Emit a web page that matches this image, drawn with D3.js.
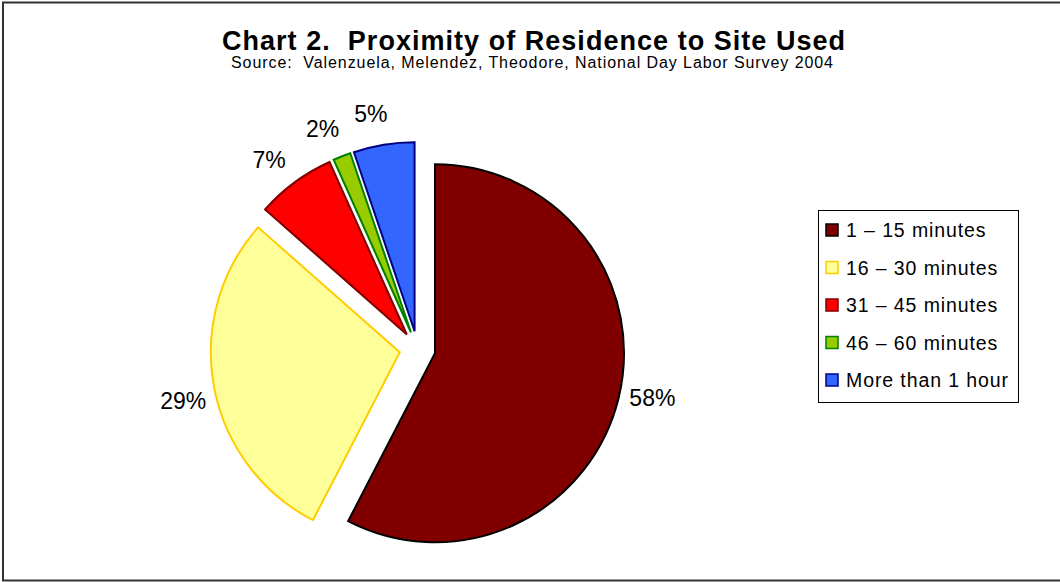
<!DOCTYPE html>
<html>
<head>
<meta charset="utf-8">
<script src="https://cdn.jsdelivr.net/npm/d3@7"></script>
<style>
  html, body { margin: 0; padding: 0; background: #fff; }
  svg { display: block; font-family: Arial, "Liberation Sans", sans-serif; }
</style>
</head>
<body>
<svg id="chart" width="1060" height="582"></svg>
<script>
// ---- data ----
const categories = ["1 \u2013 15 minutes", "16 \u2013 30 minutes", "31 \u2013 45 minutes", "46 \u2013 60 minutes", "More than 1 hour"];
const values = [57.6, 28.9, 6.8, 1.5, 5.2];
const fillColors = ["#800000", "#FFFF99", "#FF0000", "#99CC00", "#3366FF"];
const strokeColors = ["#000000", "#FFCC00", "#800000", "#008000", "#000080"];
const titleText = "Chart 2.  Proximity of Residence to Site Used";
const subtitleText = "Source:  Valenzuela, Melendez, Theodore, National Day Labor Survey 2004";

// ---- layout ----
const svg = d3.select("#chart");
const W = 1060, H = 582;
const cx = 417.5, cy = 349, R = 189, explode = 18, labelR = 222;
const labelAngleShift = -2.0 * Math.PI / 180;

// outer border
svg.append("rect")
  .attr("x", 3).attr("y", 2.5).attr("width", W + 10).attr("height", 578)
  .attr("fill", "none").attr("stroke", "#333").attr("stroke-width", 2);

// title
svg.append("text")
  .attr("x", 533.5).attr("y", 50)
  .attr("text-anchor", "middle")
  .attr("font-size", 27).attr("font-weight", "bold")
  .attr("textLength", 623).attr("lengthAdjust", "spacing")
  .style("white-space", "pre")
  .text(titleText);

svg.append("text")
  .attr("x", 532).attr("y", 68)
  .attr("text-anchor", "middle")
  .attr("font-size", 16)
  .attr("textLength", 602).attr("lengthAdjust", "spacing")
  .style("white-space", "pre")
  .text(subtitleText);

// pie
const pie = d3.pie().sort(null).value(d => d)(values);
const arc = d3.arc().innerRadius(0).outerRadius(R);
const g = svg.append("g").attr("transform", `translate(${cx},${cy})`);

function offsetAt(a, dist) { return [Math.sin(a) * dist, -Math.cos(a) * dist]; }
function mid(d) { return (d.startAngle + d.endAngle) / 2; }

g.selectAll("path.slice")
  .data(pie)
  .join("path")
  .attr("class", "slice")
  .attr("d", arc)
  .attr("transform", d => { const o = offsetAt(mid(d), explode); return `translate(${o[0]},${o[1]})`; })
  .attr("fill", (d, i) => fillColors[i])
  .attr("stroke", (d, i) => strokeColors[i])
  .attr("stroke-width", 2)
  .attr("stroke-linejoin", "miter");

g.selectAll("text.lbl")
  .data(pie)
  .join("text")
  .attr("class", "lbl")
  .attr("x", d => offsetAt(mid(d), explode)[0] + offsetAt(mid(d) + labelAngleShift, labelR)[0])
  .attr("y", d => offsetAt(mid(d), explode)[1] + offsetAt(mid(d) + labelAngleShift, labelR)[1])
  .attr("text-anchor", "middle")
  .attr("dominant-baseline", "central")
  .attr("font-size", 23)
  .attr("fill", "#000")
  .text(d => Math.round(d.value) + "%");

// legend
const lg = svg.append("g");
lg.append("rect")
  .attr("x", 818.5).attr("y", 210.5).attr("width", 200).attr("height", 192)
  .attr("fill", "#fff").attr("stroke", "#000").attr("stroke-width", 1);

const rowY = d3.scalePoint().domain(d3.range(categories.length)).range([230, 380]);
const rows = lg.selectAll("g.row").data(categories).join("g").attr("class", "row")
  .attr("transform", (d, i) => `translate(0,${rowY(i)})`);
rows.append("rect")
  .attr("x", 826).attr("y", -6).attr("width", 12).attr("height", 12)
  .attr("fill", (d, i) => fillColors[i])
  .attr("stroke", (d, i) => strokeColors[i])
  .attr("stroke-width", 1.5);
rows.append("text")
  .attr("x", 846).attr("y", 0)
  .attr("dominant-baseline", "central")
  .attr("font-size", 19.5)
  .attr("letter-spacing", 0.9)
  .text(d => d);
</script>
</body>
</html>
